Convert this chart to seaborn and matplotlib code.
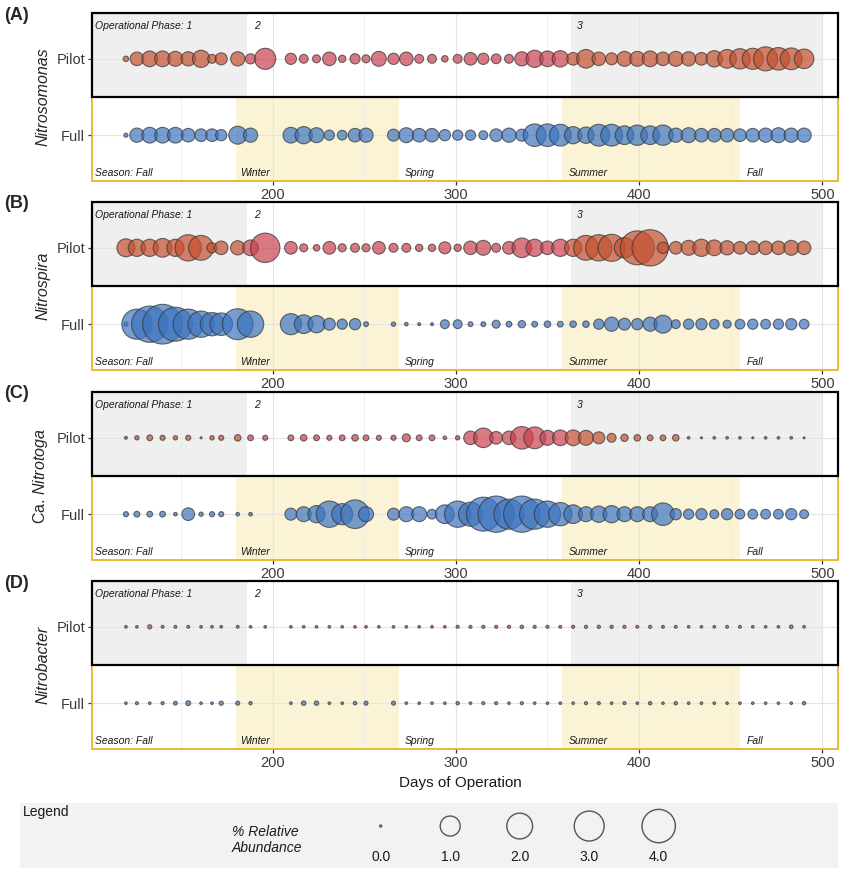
import matplotlib
matplotlib.use("Agg")
import matplotlib.pyplot as plt
from matplotlib.patches import Rectangle
from matplotlib.ticker import MultipleLocator
import numpy as np
import pandas as pd
import seaborn as sns

# sampling days (pilot has two extra samples: day 196 and 258)
days_pilot = [120, 126, 133, 140, 147, 154, 161, 167, 172, 181, 188, 196,
              210, 217, 224, 231, 238, 245, 251, 258, 266, 273,
              280, 287, 294, 301, 308, 315, 322, 329, 336, 343, 350, 357,
              364, 371, 378, 385, 392, 399, 406, 413, 420, 427, 434, 441,
              448, 455, 462, 469, 476, 483, 490]
days_full = [120, 126, 133, 140, 147, 154, 161, 167, 172, 181, 188,
             210, 217, 224, 231, 238, 245, 251, 266, 273,
             280, 287, 294, 301, 308, 315, 322, 329, 336, 343, 350, 357,
             364, 371, 378, 385, 392, 399, 406, 413, 420, 427, 434, 441,
             448, 455, 462, 469, 476, 483, 490]

# % relative abundance
nitrosomonas_pilot = [0.016, 0.33, 0.51, 0.51, 0.44, 0.38, 0.66, 0.09, 0.23, 0.38, 0.14, 1.16,
                      0.19, 0.09, 0.064, 0.33, 0.047, 0.14, 0.064, 0.44, 0.19, 0.33,
                      0.09, 0.09, 0.031, 0.09, 0.27, 0.19, 0.12, 0.09, 0.38, 0.66, 0.51, 0.57,
                      0.27, 0.83, 0.33, 0.23, 0.44, 0.44, 0.51, 0.33, 0.44, 0.38, 0.27, 0.57,
                      0.83, 1.05, 1.16, 1.67, 1.40, 1.27, 0.94]
nitrosomonas_full = [0.0041, 0.38, 0.51, 0.51, 0.51, 0.33, 0.27, 0.27, 0.19, 0.74, 0.38,
                     0.51, 0.66, 0.44, 0.14, 0.12, 0.33, 0.38, 0.23, 0.44,
                     0.33, 0.33, 0.19, 0.14, 0.14, 0.09, 0.27, 0.38, 0.23, 1.40, 1.40, 1.27,
                     0.66, 0.57, 1.27, 1.27, 0.83, 1.05, 0.83, 1.05, 0.38, 0.44, 0.33, 0.33,
                     0.33, 0.27, 0.33, 0.38, 0.44, 0.38, 0.38]

nitrospira_pilot = [0.74, 0.66, 0.66, 0.83, 0.66, 2.12, 1.82, 0.14, 0.33, 0.38, 0.51, 2.86,
                    0.27, 0.064, 0.031, 0.27, 0.064, 0.09, 0.064, 0.27, 0.09, 0.09,
                    0.047, 0.047, 0.23, 0.047, 0.33, 0.44, 0.09, 0.27, 0.94, 0.66, 0.33, 0.66,
                    0.66, 1.82, 2.12, 2.30, 1.05, 4.21, 5.01, 0.19, 0.27, 0.44, 0.66, 0.51,
                    0.38, 0.27, 0.33, 0.33, 0.33, 0.44, 0.33]
nitrospira_full = [0.0041, 3.07, 5.01, 6.36, 4.21, 3.07, 2.12, 1.53, 1.40, 3.27, 2.12,
                   1.16, 0.83, 0.66, 0.23, 0.14, 0.19, 0.0098, 0.0057, 0.0022,
                   0.00055, 0.00055, 0.09, 0.09, 0.0098, 0.0098, 0.064, 0.020, 0.047, 0.020, 0.031, 0.020,
                   0.031, 0.031, 0.14, 0.38, 0.23, 0.19, 0.38, 0.74, 0.09, 0.14, 0.19, 0.12,
                   0.064, 0.12, 0.14, 0.12, 0.14, 0.19, 0.12]

nitrotoga_pilot = [0.00055, 0.0057, 0.020, 0.012, 0.0057, 0.012, 0.0, 0.0057, 0.012, 0.031, 0.020, 0.012,
                   0.020, 0.031, 0.020, 0.012, 0.020, 0.031, 0.020, 0.012, 0.012, 0.064,
                   0.020, 0.020, 0.0022, 0.0057, 0.33, 0.94, 0.27, 0.33, 1.40, 1.27, 0.44, 0.51,
                   0.51, 0.44, 0.23, 0.09, 0.047, 0.031, 0.020, 0.020, 0.031, 0.00023, 0.0, 0.00023,
                   0.00023, 0.00023, 0.0, 0.00023, 0.00023, 0.00023, 0.0]
nitrotoga_full = [0.012, 0.020, 0.020, 0.020, 0.0022, 0.27, 0.0057, 0.012, 0.012, 0.0022, 0.0022,
                  0.23, 0.44, 0.66, 2.12, 1.16, 2.67, 0.44, 0.23, 0.44,
                  0.44, 0.12, 0.83, 2.12, 1.67, 4.21, 5.01, 3.07, 5.01, 3.07, 2.12, 1.53,
                  0.83, 0.44, 0.57, 0.66, 0.44, 0.44, 0.44, 1.40, 0.19, 0.14, 0.19, 0.09,
                  0.19, 0.12, 0.12, 0.12, 0.12, 0.19, 0.09]

nitrobacter_pilot = [0.00023, 0.00023, 0.0052, 0.00055, 0.00055, 0.00055, 0.00023, 0.00023, 0.00023, 0.00055, 0.00023, 0.00023,
                     0.00023, 0.00023, 0.00023, 0.00023, 0.00023, 0.00023, 0.00023, 0.00023, 0.00023, 0.00023,
                     0.00023, 0.00023, 0.00023, 0.0009, 0.0009, 0.0009, 0.0009, 0.0009, 0.0017, 0.0009, 0.0009, 0.00055,
                     0.0009, 0.0009, 0.0013, 0.0013, 0.0009, 0.00055, 0.0009, 0.00055, 0.00055, 0.00023, 0.00023, 0.00023,
                     0.00055, 0.00055, 0.00023, 0.00023, 0.00023, 0.0022, 0.00023]
nitrobacter_full = [0.00023, 0.0009, 0.00023, 0.0009, 0.0031, 0.0098, 0.00023, 0.00023, 0.0052, 0.0041, 0.0013,
                    0.00023, 0.0068, 0.0068, 0.00023, 0.00023, 0.0022, 0.0041, 0.0041, 0.00023,
                    0.00023, 0.00023, 0.00023, 0.0017, 0.00023, 0.0009, 0.0009, 0.00023, 0.0009, 0.00023, 0.00023, 0.00023,
                    0.00023, 0.0009, 0.0009, 0.00023, 0.0009, 0.00023, 0.0017, 0.00023, 0.0017, 0.00023, 0.00023, 0.00023,
                    0.00023, 0.00023, 0.00023, 0.00023, 0.00023, 0.00023, 0.0017]

taxa = ["Nitrosomonas", "Nitrospira", "Ca. Nitrotoga", "Nitrobacter"]
panel_tags = ["(A)", "(B)", "(C)", "(D)"]
pilot_values = [nitrosomonas_pilot, nitrospira_pilot, nitrotoga_pilot, nitrobacter_pilot]
full_values = [nitrosomonas_full, nitrospira_full, nitrotoga_full, nitrobacter_full]

# operational phases (pilot) and seasons (full scale)
phase_spans = [(95, 186), (363, 500)]
phase_labels = ["Operational Phase: 1", "2", "3"]
phase_label_days = [103, 190, 366]
season_spans = [(180, 269), (358, 455)]
season_labels = ["Season: Fall", "Winter", "Spring", "Summer", "Fall"]
season_label_days = [103, 182.5, 272, 361.5, 458.5]

legend_values = [0.0, 1.0, 2.0, 3.0, 4.0]
legend_labels = ["0.0", "1.0", "2.0", "3.0", "4.0"]


def marker_area(v):
    # bubble diameter (px) grows with abundance, converted to points^2
    d_px = 2 + 18 * v ** 0.4
    return (d_px * 0.72) ** 2


sns.set_theme(style="white")
plt.rcParams['font.family'] = ['Liberation Sans', 'DejaVu Sans']
plt.rcParams['mathtext.fontset'] = 'custom'
plt.rcParams['mathtext.rm'] = 'Liberation Sans'
plt.rcParams['mathtext.it'] = 'Liberation Sans:italic'

fig = plt.figure(figsize=(8.44, 8.73), dpi=100)
W, H = 844, 873

panel_tops = [13, 202, 392, 581]
panel_h = 168
left_px, right_px = 92, 838

grey_bg = '#EFEFEF'
yellow_bg = '#FAF3D6'
gold = '#E6B523'
pilot_colours = {'p13': '#C4502F', 'p2': '#C9404F', 'full': '#3D74BF'}

for i in range(4):
    top = panel_tops[i]
    ax = fig.add_axes([left_px / W, 1 - (top + panel_h) / H,
                       (right_px - left_px) / W, panel_h / H])

    df = pd.DataFrame({
        'day': days_pilot + days_full,
        'reactor': ['Pilot'] * len(days_pilot) + ['Full'] * len(days_full),
        'abund': pilot_values[i] + full_values[i],
    })
    grp = []
    for d, r in zip(df['day'], df['reactor']):
        if r == 'Full':
            grp.append('full')
        elif phase_spans[0][1] <= d < phase_spans[1][0]:
            grp.append('p2')
        else:
            grp.append('p13')
    df['grp'] = grp

    # shaded phases (top half = pilot) and seasons (bottom half = full)
    for a, b in phase_spans:
        ax.axvspan(a, b, ymin=0.5, ymax=1, color=grey_bg, lw=0, zorder=0.2)
    for a, b in season_spans:
        ax.axvspan(a, b, ymin=0, ymax=0.5, color=yellow_bg, lw=0, zorder=0.2)

    sizes = {v: marker_area(v) for v in df['abund'].unique()}
    sns.scatterplot(data=df, x='day', y='reactor', size='abund', sizes=sizes,
                    hue='grp', palette=pilot_colours, alpha=0.7,
                    edgecolor='#333333', linewidth=0.8, legend=False,
                    ax=ax, zorder=3)

    ax.set_xlim(101.5, 508.5)
    ax.set_ylim(1.6, -0.6)
    ax.xaxis.set_major_locator(MultipleLocator(100))
    ax.xaxis.set_minor_locator(MultipleLocator(50))
    ax.set_axisbelow(True)
    ax.grid(True, which='major', color='#E4E4E4', lw=0.8)
    ax.grid(True, which='minor', axis='x', color='#ECECEC', lw=0.6)
    ax.tick_params(axis='both', which='major', length=3, width=0.9, color='#333333',
                   labelsize=10.5, labelcolor='#3A3A3A', pad=2, bottom=True, left=True)
    ax.tick_params(axis='x', which='minor', length=0)
    for s in ax.spines.values():
        s.set_visible(False)

    ax.add_patch(Rectangle((0, 0), 1, 0.5, transform=ax.transAxes, fill=False,
                           ec=gold, lw=1.3, clip_on=False, zorder=6))
    ax.add_patch(Rectangle((0, 0.5), 1, 0.5, transform=ax.transAxes, fill=False,
                           ec='black', lw=1.6, clip_on=False, zorder=7))

    for lab, d in zip(phase_labels, phase_label_days):
        ax.text(d, -0.43, lab, style='italic', fontsize=7.5, va='center', ha='left',
                color='#1A1A1A', zorder=4)
    for lab, d in zip(season_labels, season_label_days):
        ax.text(d, 1.49, lab, style='italic', fontsize=7.5, va='center', ha='left',
                color='#1A1A1A', zorder=4)

    ax.set_xlabel('')
    if taxa[i].startswith('Ca. '):
        ax.set_ylabel('Ca. $\\mathit{' + taxa[i][4:] + '}$', fontsize=11.5)
    else:
        ax.set_ylabel(taxa[i], fontsize=11.5, style='italic')
    ax.yaxis.set_label_coords(-0.056, 0.5)

    fig.text(4 / W, 1 - (top + 2) / H, panel_tags[i], fontsize=13,
             fontweight='bold', va='center', ha='left')

fig.text(460 / W, 1 - 783 / H, 'Days of Operation', fontsize=11,
         ha='center', va='center', color='#1A1A1A')

# legend box
lax = fig.add_axes([20 / W, 1 - 868 / H, 818 / W, 65 / H])
lax.set_facecolor('#F2F2F2')
for s in lax.spines.values():
    s.set_visible(False)
lax.set_xticks([])
lax.set_yticks([])
leg_df = pd.DataFrame({'pos': list(range(len(legend_values))),
                       'row': [0] * len(legend_values),
                       'abund': legend_values})
sns.scatterplot(data=leg_df, x='pos', y='row', size='abund',
                sizes={v: marker_area(v) for v in legend_values},
                color='#F2F2F2', edgecolor='#555555', linewidth=1.0,
                legend=False, ax=lax)
lax.set_xlim(-5.19, 6.58)
lax.set_ylim(-1.82, 1.0)
lax.set_xlabel('')
lax.set_ylabel('')
for p, lab in zip(leg_df['pos'], legend_labels):
    lax.text(p, 0.17, lab, transform=lax.get_xaxis_transform(), ha='center',
             va='center', fontsize=10, color='#1A1A1A')
lax.text(0.003, 0.86, 'Legend', transform=lax.transAxes, fontsize=10,
         ha='left', va='center', color='#1A1A1A')
lax.text(0.259, 0.43, '% Relative\nAbundance', transform=lax.transAxes,
         fontsize=10, style='italic', ha='left', va='center', color='#1A1A1A',
         linespacing=1.2)

plt.savefig('out.png', dpi=100)
